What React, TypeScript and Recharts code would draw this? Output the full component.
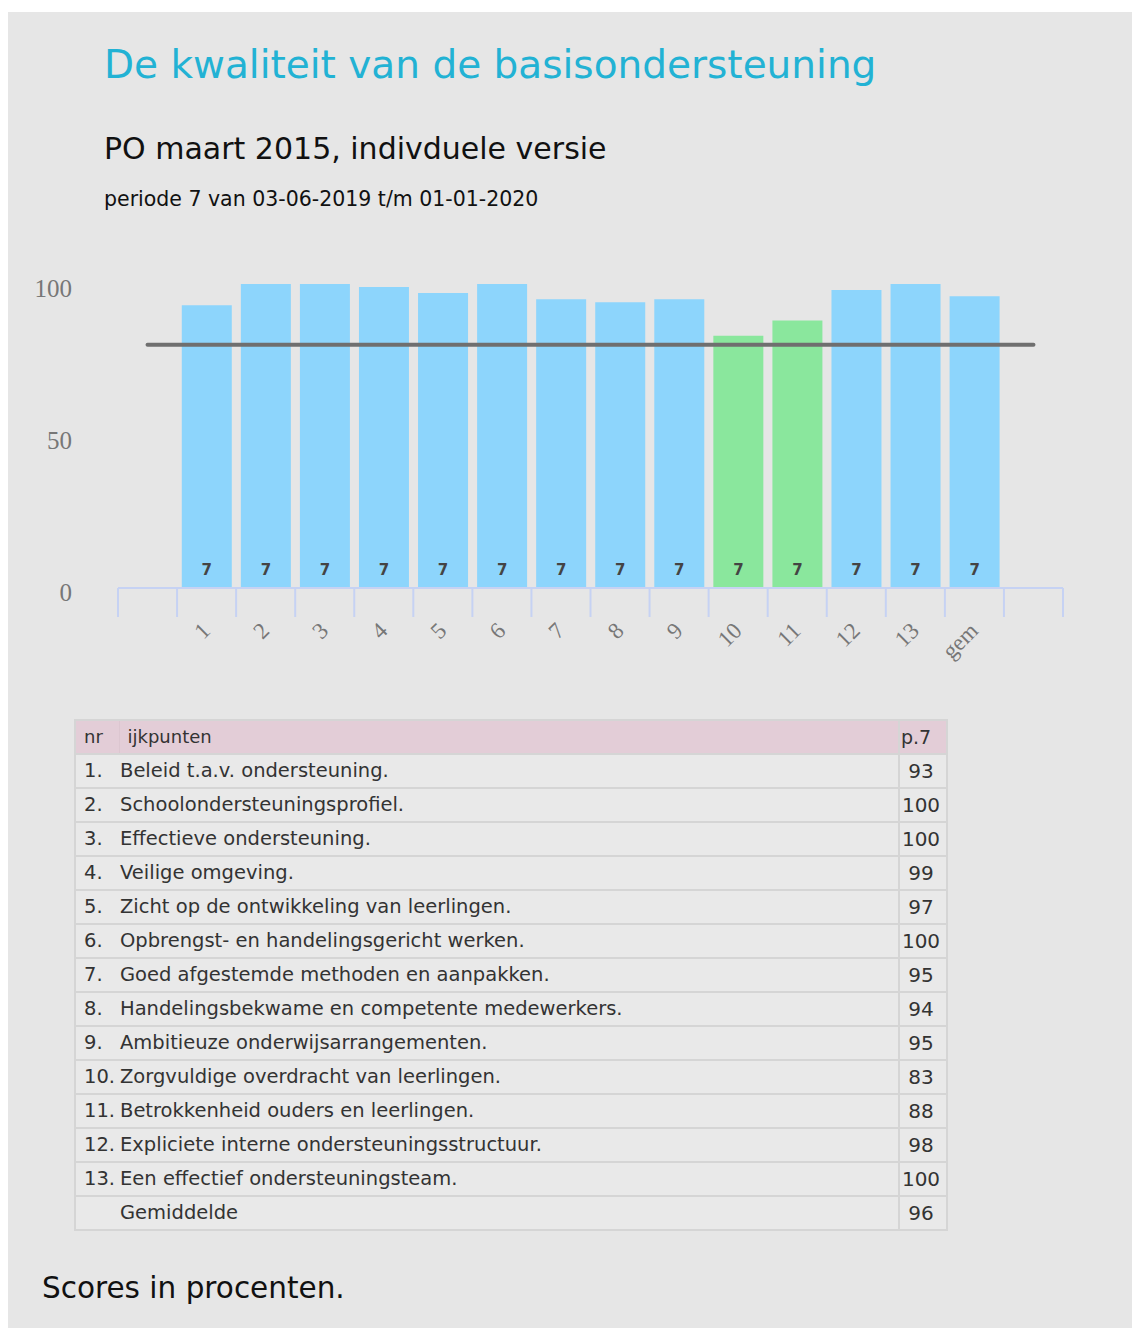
import React from 'react';
import { BarChart, Bar, XAxis, YAxis, Cell, LabelList, ReferenceLine } from 'recharts';

const TITLE = 'De kwaliteit van de basisondersteuning';
const SUBTITLE = 'PO maart 2015, indivduele versie';
const PERIOD_TEXT = 'periode 7 van 03-06-2019 t/m 01-01-2020';
const FOOTER = 'Scores in procenten.';

const PERIOD = 7;
const NORM = 80;
const LOW_THRESHOLD = 90;
const CATEGORIES = ['1', '2', '3', '4', '5', '6', '7', '8', '9', '10', '11', '12', '13', 'gem'];
const SCORES = [93, 100, 100, 99, 97, 100, 95, 94, 95, 83, 88, 98, 100, 96];
const Y_TICKS = [0, 50, 100];
const ITEMS = [
  'Beleid t.a.v. ondersteuning.',
  'Schoolondersteuningsprofiel.',
  'Effectieve ondersteuning.',
  'Veilige omgeving.',
  'Zicht op de ontwikkeling van leerlingen.',
  'Opbrengst- en handelingsgericht werken.',
  'Goed afgestemde methoden en aanpakken.',
  'Handelingsbekwame en competente medewerkers.',
  'Ambitieuze onderwijsarrangementen.',
  'Zorgvuldige overdracht van leerlingen.',
  'Betrokkenheid ouders en leerlingen.',
  'Expliciete interne ondersteuningsstructuur.',
  'Een effectief ondersteuningsteam.',
];
const AVG_LABEL = 'Gemiddelde';
const TABLE_HEAD = ['nr', 'ijkpunten', 'p.7'];

const BLUE = '#8dd5fc';
const GREEN = '#8ae79d';
const AXIS_BLUE = '#c6d2f3';

const chartData = [
  { name: 'start', score: null as number | null },
  ...CATEGORIES.map((c, i) => ({ name: c, score: SCORES[i] as number | null })),
  { name: 'end', score: null as number | null },
];

const CHART_W = 1100;
const CHART_H = 440;
const MARGIN = { top: 22, right: 45, bottom: 24, left: 40 };
const Y_W = 70;

const XTick = (props: any) => {
  const { x, y, payload, index, visibleTicksCount } = props;
  const fallback = (CHART_W - MARGIN.left - MARGIN.right - Y_W) / chartData.length / 2;
  const half = payload && typeof payload.offset === 'number' && payload.offset > 0 ? payload.offset : fallback;
  const label = CATEGORIES.includes(payload.value) ? payload.value : '';
  const tx = x + 5;
  const ty = y + 44;
  return (
    <g>
      <line x1={x - half} y1={y} x2={x - half} y2={y + 29} stroke={AXIS_BLUE} strokeWidth={2} />
      {index === visibleTicksCount - 1 && (
        <line x1={x + half} y1={y} x2={x + half} y2={y + 29} stroke={AXIS_BLUE} strokeWidth={2} />
      )}
      {label && (
        <text
          x={tx}
          y={ty}
          transform={`rotate(-45 ${tx} ${ty})`}
          textAnchor="end"
          fontFamily="'Liberation Serif', serif"
          fontSize={23}
          fill="#777"
        >
          {label}
        </text>
      )}
    </g>
  );
};

const YTick = (props: any) => {
  const { x, y, payload } = props;
  return (
    <text x={x} y={y + 4} dy="0.35em" textAnchor="end" fontFamily="'Liberation Serif', serif" fontSize={25} fill="#777">
      {payload.value}
    </text>
  );
};

const cellStyle: React.CSSProperties = {
  borderBottom: '2px solid #d5d5d5',
  borderRight: '2px solid #d5d5d5',
  padding: 0,
  height: 32,
  lineHeight: '32px',
  whiteSpace: 'nowrap',
};

export default function App() {
  return (
    <div
      style={{
        position: 'absolute',
        left: 8,
        top: 12,
        width: 1124,
        height: 1316,
        background: '#e6e6e6',
        fontFamily: "'DejaVu Sans', sans-serif",
        overflow: 'hidden',
      }}
    >
      <div style={{ position: 'absolute', left: 96, top: 33, fontSize: 39, lineHeight: '39px', color: '#22b2d4', whiteSpace: 'nowrap' }}>
        {TITLE}
      </div>
      <div style={{ position: 'absolute', left: 96, top: 122, fontSize: 30, lineHeight: '30px', color: '#111', whiteSpace: 'nowrap' }}>
        {SUBTITLE}
      </div>
      <div style={{ position: 'absolute', left: 96, top: 177, fontSize: 20.5, lineHeight: '20px', color: '#111', whiteSpace: 'nowrap' }}>
        {PERIOD_TEXT}
      </div>

      <div style={{ position: 'absolute', left: 0, top: 250 }}>
        <BarChart width={CHART_W} height={CHART_H} data={chartData} margin={MARGIN} barCategoryGap="8%">
          <XAxis
            dataKey="name"
            interval={0}
            tickLine={false}
            tickSize={0}
            tickMargin={0}
            height={90}
            axisLine={{ stroke: AXIS_BLUE, strokeWidth: 2 }}
            tick={<XTick />}
          />
          <YAxis
            domain={[0, 100]}
            ticks={Y_TICKS}
            width={Y_W}
            axisLine={false}
            tickLine={false}
            tick={<YTick />}
            tickSize={0}
            tickMargin={46}
          />
          <Bar dataKey="score" isAnimationActive={false}>
            {chartData.map((d, i) => (
              <Cell key={i} fill={d.score != null && d.score < LOW_THRESHOLD ? GREEN : BLUE} />
            ))}
            <LabelList
              dataKey="score"
              position="insideBottom"
              offset={13}
              formatter={(v: any) => (v == null ? '' : String(PERIOD))}
              fill="#444"
              fontSize={15}
              fontWeight="bold"
              fontFamily="'DejaVu Sans', sans-serif"
            />
          </Bar>
          <ReferenceLine
            segment={[{ x: 'start', y: NORM }, { x: 'end', y: NORM }]}
            stroke="#6f6f6f"
            strokeWidth={4}
            strokeLinecap="round"
          />
        </BarChart>
      </div>

      <table
        style={{
          position: 'absolute',
          left: 66,
          top: 707,
          width: 872,
          borderCollapse: 'collapse',
          borderTop: '2px solid #d5d5d5',
          borderLeft: '2px solid #d5d5d5',
          fontSize: 19.5,
          color: '#333',
          fontFamily: "'DejaVu Sans', sans-serif",
          tableLayout: 'fixed',
        }}
      >
        <colgroup>
          <col style={{ width: 44 }} />
          <col style={{ width: 780 }} />
          <col style={{ width: 48 }} />
        </colgroup>
        <tbody>
          <tr style={{ background: '#e3cdd7' }}>
            <td style={{ ...cellStyle, paddingLeft: 8, borderRight: '1px solid #dcc6d0', fontSize: 18 }}>{TABLE_HEAD[0]}</td>
            <td style={{ ...cellStyle, paddingLeft: 8, fontSize: 18 }}>{TABLE_HEAD[1]}</td>
            <td style={{ ...cellStyle, textAlign: 'left', paddingLeft: 1, fontSize: 19 }}>{TABLE_HEAD[2]}</td>
          </tr>
          {ITEMS.map((item, i) => (
            <tr key={i} style={{ background: '#e9e9e9' }}>
              <td colSpan={2} style={{ ...cellStyle, paddingLeft: 8 }}>
                <span style={{ display: 'inline-block', width: 36 }}>{`${i + 1}.`}</span>
                {item}
              </td>
              <td style={{ ...cellStyle, textAlign: 'center', fontSize: 20, paddingRight: 4 }}>{SCORES[i]}</td>
            </tr>
          ))}
          <tr style={{ background: '#e9e9e9' }}>
            <td colSpan={2} style={{ ...cellStyle, paddingLeft: 8 }}>
              <span style={{ display: 'inline-block', width: 36 }}></span>
              {AVG_LABEL}
            </td>
            <td style={{ ...cellStyle, textAlign: 'center', fontSize: 20, paddingRight: 4 }}>{SCORES[SCORES.length - 1]}</td>
          </tr>
        </tbody>
      </table>

      <div style={{ position: 'absolute', left: 34, top: 1262, fontSize: 29.5, lineHeight: '29px', color: '#111', whiteSpace: 'nowrap' }}>
        {FOOTER}
      </div>
    </div>
  );
}
